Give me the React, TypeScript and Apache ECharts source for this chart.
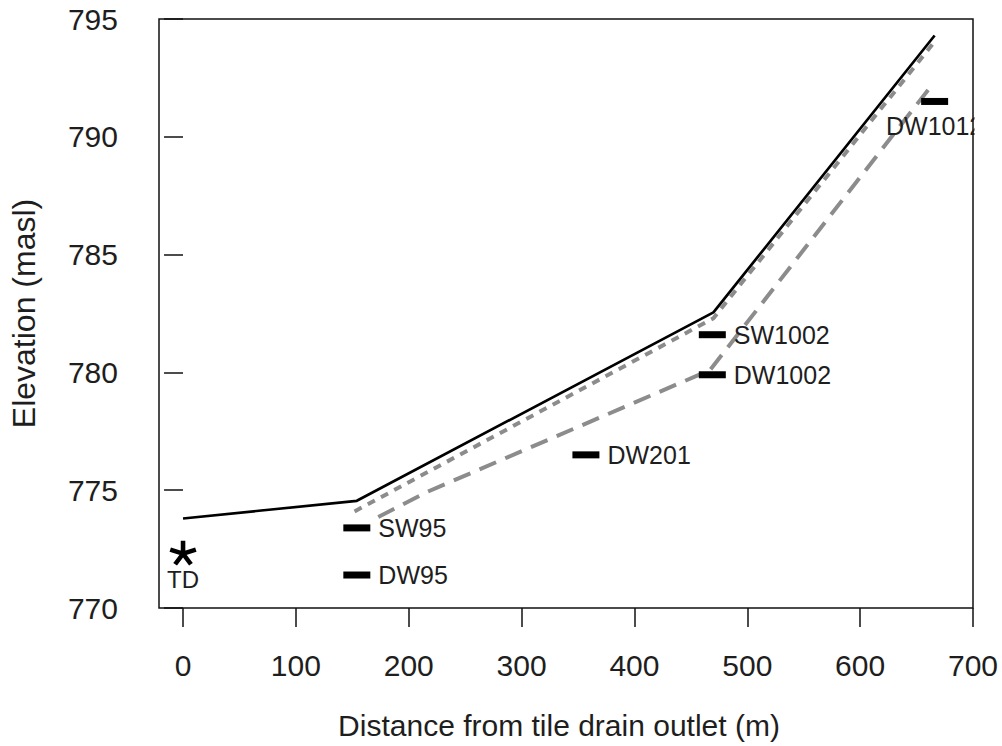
import React, { useEffect, useRef } from "react";
import * as echarts from "echarts";

// ---- data ----
const xTicks = [0, 100, 200, 300, 400, 500, 600, 700];
const yTicks = [770, 775, 780, 785, 790, 795];

// ground surface (solid black)
const groundX = [0, 154, 470, 666];
const groundY = [773.8, 774.55, 782.55, 794.3];

// shallow water table (grey short dashes)
const shallowX = [152, 470, 667];
const shallowY = [774.1, 782.3, 794.1];

// deep water table (grey long dashes)
const deepX = [173, 216, 467, 662];
const deepY = [773.86, 774.92, 780.1, 792.1];

// wells
const wellNames = ["SW95", "DW95", "DW201", "SW1002", "DW1002", "DW1012"];
const wellX = [154, 154, 357, 469, 469, 666];
const wellY = [773.4, 771.4, 776.5, 781.6, 779.9, 791.5];

// tile drain outlet
const drainName = "TD";
const drainX = [0];
const drainY = [772.33];

const FONT = "'Liberation Sans', Arial, Helvetica, sans-serif";
const TXT = "#1e1e1e";
const GREY = "#8c8c8c";

const labelBelow = new Set(["DW1012"]);

function pairs(xs: number[], ys: number[]) {
  return xs.map((x, i) => [x, ys[i]]);
}

// five-armed asterisk glyph used as the symbol of the tile-drain outlet
function asteriskPath(): string {
  const arms = 5;
  const w = 0.34;
  const L = 1;
  let d = "";
  for (let k = 0; k < arms; k++) {
    const a = (k * 2 * Math.PI) / arms;
    const ux = Math.sin(a);
    const uy = -Math.cos(a);
    const px = -uy;
    const py = ux;
    const c0x = -ux * 0.05;
    const c0y = -uy * 0.05;
    const pts = [
      [c0x + (px * w) / 2, c0y + (py * w) / 2],
      [ux * L + (px * w) / 2, uy * L + (py * w) / 2],
      [ux * L - (px * w) / 2, uy * L - (py * w) / 2],
      [c0x - (px * w) / 2, c0y - (py * w) / 2],
    ];
    d +=
      "M" +
      pts.map((p) => (p[0] * 50 + 60).toFixed(2) + " " + (p[1] * 50 + 60).toFixed(2)).join("L") +
      "Z";
  }
  return "path://" + d;
}

export default function App() {
  const ref = useRef<HTMLDivElement>(null);

  useEffect(() => {
    if (!ref.current) return;
    const chart = echarts.init(ref.current, undefined, { renderer: "svg" });

    const option: any = {
      animation: false,
      backgroundColor: "#ffffff",
      textStyle: { fontFamily: FONT },
      grid: {
        left: 159,
        top: 19,
        right: 1002 - 973,
        bottom: 746 - 608,
        show: true,
        borderColor: "#111",
        borderWidth: 1.5,
        backgroundColor: "transparent",
        containLabel: false,
      },
      xAxis: {
        type: "value",
        min: -21.3,
        max: 700,
        axisLine: { show: false },
        splitLine: { show: false },
        axisTick: {
          show: true,
          length: 19,
          lineStyle: { color: "#111", width: 1.5 },
          customValues: xTicks,
        },
        axisLabel: {
          customValues: xTicks,
          fontSize: 30,
          color: TXT,
          fontFamily: FONT,
          margin: 42,
        },
        name: "Distance from tile drain outlet (m)",
        nameLocation: "middle",
        nameGap: 102,
        nameTextStyle: {
          fontSize: 30,
          color: TXT,
          fontFamily: FONT,
          padding: [0, 14, 0, 0],
        },
      },
      yAxis: {
        type: "value",
        min: 770,
        max: 795,
        interval: 5,
        axisLine: { show: false },
        splitLine: { show: false },
        axisTick: {
          show: true,
          length: 19,
          lineStyle: { color: "#111", width: 1.5 },
        },
        axisLabel: {
          fontSize: 30,
          color: TXT,
          fontFamily: FONT,
          margin: 41,
          formatter: (v: number) => (yTicks.includes(v) ? String(v) : ""),
        },
        name: "Elevation (masl)",
        nameLocation: "middle",
        nameRotate: 90,
        nameGap: 119,
        nameTextStyle: { fontSize: 32, color: TXT, fontFamily: FONT },
      },
      series: [
        {
          name: "Shallow water table",
          type: "line",
          data: pairs(shallowX, shallowY),
          symbol: "none",
          lineStyle: { color: GREY, width: 4, type: [8, 7] },
          z: 2,
        },
        {
          name: "Deep water table",
          type: "line",
          data: pairs(deepX, deepY),
          symbol: "none",
          lineStyle: { color: GREY, width: 4, type: [18, 10] },
          z: 2,
        },
        {
          name: "Ground surface",
          type: "line",
          data: pairs(groundX, groundY),
          symbol: "none",
          lineStyle: { color: "#000", width: 2.7 },
          z: 3,
        },
        {
          name: "Wells",
          type: "scatter",
          symbol: "rect",
          symbolSize: [27, 7],
          itemStyle: { color: "#000", opacity: 1 },
          data: wellNames.map((n, i) => {
            const below = labelBelow.has(n);
            return {
              name: n,
              value: [wellX[i], wellY[i]],
              label: below
                ? { position: "bottom", distance: 9 }
                : { position: "right", distance: 8 },
            };
          }),
          label: {
            show: true,
            formatter: (p: any) => p.name,
            fontSize: 25,
            color: TXT,
            fontFamily: FONT,
          },
          z: 4,
        },
        {
          name: "Tile drain outlet",
          type: "scatter",
          symbol: asteriskPath(),
          symbolSize: [27, 26],
          symbolKeepAspect: true,
          itemStyle: { color: "#000", opacity: 1 },
          data: pairs(drainX, drainY).map((v) => ({ name: drainName, value: v })),
          label: {
            show: true,
            position: "bottom",
            distance: 2,
            formatter: (p: any) => p.name,
            fontSize: 24,
            color: TXT,
            fontFamily: FONT,
          },
          z: 4,
        },
      ],
      graphic: [
        {
          type: "rect",
          z: 100,
          shape: { x: 974.5, y: 108, width: 30, height: 40 },
          style: { fill: "#ffffff" },
        },
      ],
    };

    chart.setOption(option);
    return () => chart.dispose();
  }, []);

  return (
    <div
      ref={ref}
      style={{
        position: "fixed",
        left: 0,
        top: 0,
        width: 1002,
        height: 746,
        background: "#fff",
      }}
    />
  );
}
